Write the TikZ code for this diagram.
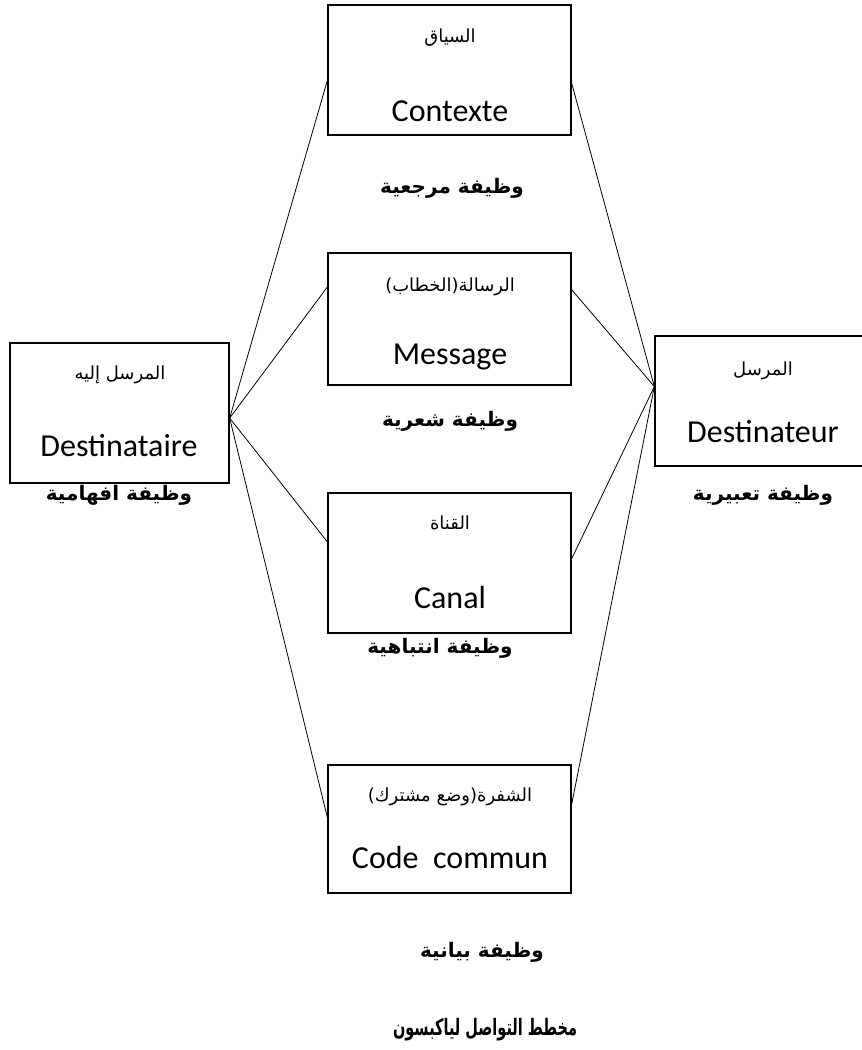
\documentclass[tikz,border=0pt]{standalone}
\usepackage{fontspec}
\usetikzlibrary{calc}
\TeXXeTstate=1
\setmainfont{Carlito}
\newfontfamily\arabicfont[Script=Arabic]{DejaVu Sans}
\newcommand{\ar}[1]{{\arabicfont\beginR #1\endR}}
\tikzset{
  box/.style={draw, line width=1pt, inner sep=0pt},
  link/.style={line width=0.6pt},
  latin/.style={font=\fontsize{24}{26}\selectfont},
  arsmall/.style={font=\fontsize{13.5}{15}\selectfont},
  arbold/.style={font=\fontsize{15}{17}\selectfont\bfseries},
  artitle/.style={font=\fontsize{17}{19}\selectfont\bfseries},
}
\begin{document}
\begin{tikzpicture}[x=0.75pt,y=-0.75pt]
\useasboundingbox[fill=white] (0,0) rectangle (862,1050);
% boxes
\node[box, minimum width=182.25pt, minimum height=97.5pt] (ctx) at (449.5,70) {};
\node[box, minimum width=182.25pt, minimum height=99pt] (msg) at (449.5,319) {};
\node[box, minimum width=182.25pt, minimum height=105pt] (can) at (449.5,563) {};
\node[box, minimum width=182.25pt, minimum height=96pt] (cod) at (449.5,829) {};
\node[box, minimum width=164.25pt, minimum height=105pt] (dst) at (119.5,413) {};
\node[box, minimum width=161.25pt, minimum height=97.5pt] (snd) at (762.5,401) {};
% convergence points
\coordinate (L) at ($(dst.north east)!0.536!(dst.south east)$);
\coordinate (R) at ($(snd.north west)!0.39!(snd.south west)$);
% connectors
\draw[link] (L) -- ($(ctx.north west)!0.58!(ctx.south west)$);
\draw[link] (L) -- ($(msg.north west)!0.26!(msg.south west)$);
\draw[link] (L) -- ($(can.north west)!0.35!(can.south west)$);
\draw[link] (L) -- ($(cod.north west)!0.41!(cod.south west)$);
\draw[link] (R) -- ($(ctx.north east)!0.6!(ctx.south east)$);
\draw[link] (R) -- ($(msg.north east)!0.28!(msg.south east)$);
\draw[link] (R) -- ($(can.north east)!0.47!(can.south east)$);
\draw[link] (R) -- ($(cod.north east)!0.31!(cod.south east)$);
% box texts
\node[arsmall] (t1) at (450,38) {\ar{السياق}};
\node[latin] (t2) at (450,111) {Contexte};
\node[arsmall] (t3) at (450,287) {\ar{الرسالة(الخطاب)}};
\node[latin] (t4) at (450,357) {Message};
\node[arsmall] (t5) at (450,523) {\ar{القناة}};
\node[latin] (t6) at (450,597) {Canal};
\node[arsmall] (t7) at (450,797) {\ar{الشفرة(وضع مشترك)}};
\node[latin] (t8) at (450,857) {Code\ \ commun};
\node[arsmall] (t9) at (120,375) {\ar{المرسل إليه}};
\node[latin] (t10) at (119,446) {Destinataire};
\node[arsmall] (t11) at (763,371) {\ar{المرسل}};
\node[latin] (t12) at (763,432) {Destinateur};
% function labels
\node[arbold] (f1) at (452,188) {\ar{وظيفة مرجعية}};
\node[arbold] (f2) at (450,421) {\ar{وظيفة شعرية}};
\node[arbold] (f3) at (119,495) {\ar{وظيفة افهامية}};
\node[arbold] (f4) at (763,495) {\ar{وظيفة تعبيرية}};
\node[arbold] (f5) at (440,648) {\ar{وظيفة انتباهية}};
\node[arbold] (f6) at (482,952) {\ar{وظيفة بيانية}};
\node[artitle] (f7) at (485,1030) {\scalebox{0.64}[1]{\ar{مخطط التواصل لياكبسون}}};
\end{tikzpicture}
\end{document}
